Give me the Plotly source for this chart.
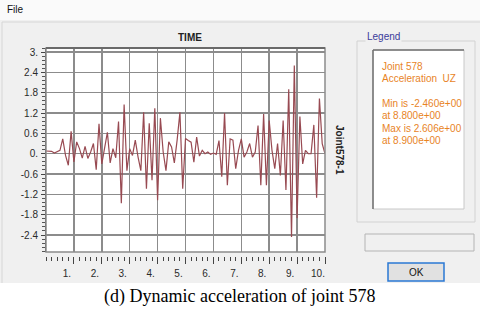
import plotly.graph_objects as go

# ---------------- data ----------------
time_step = 0.1
accel_uz = [
    0.08, 0.08, 0.07, 0.02, 0.05, 0.10, 0.44, -0.05, -0.34, 0.66,
    -0.24, 0.35, 0.15, -0.13, 0.22, -0.14, 0.05, 0.30, -0.47, 0.88,
    -0.30, 0.15, 0.63, -0.27, 0.15, -0.12, 0.95, -1.46, 1.45, -0.50,
    0.15, -0.05, 0.40, -0.10, -0.50, 1.22, -1.03, 0.90, -0.78, 1.34,
    -1.37, 1.05, 0.05, -0.50, 0.35, 0.20, -0.27, 0.40, 1.22, -1.03,
    0.45, 0.39, 0.34, -0.25, 0.49, -0.07, 0.10, 0.00, 0.05, -0.02,
    0.02, -0.02, 0.39, -0.68, 1.20, -0.93, 0.44, 0.40, -0.44, 0.10,
    0.44, -0.10, 0.05, 0.30, -0.10, 0.05, 0.83, -0.93, 1.17, -0.93,
    0.98, 0.10, -0.44, 0.30, -0.64, 0.98, -1.07, 1.90, -2.46, 2.606,
    -1.90, 1.10, -0.30, 0.10, 0.00, 0.00, 0.85, -1.30, 1.63, 0.30,
    0.00,
]
time = [round(i * time_step, 1) for i in range(len(accel_uz))]

y_tickvals = [3.0, 2.4, 1.8, 1.2, 0.6, 0.0, -0.6, -1.2, -1.8, -2.4]
y_ticktext = ["3.", "2.4", "1.8", "1.2", "0.6", "0.", "-0.6", "-1.2", "-1.8", "-2.4"]
x_tickvals = [1, 2, 3, 4, 5, 6, 7, 8, 9, 10]
x_ticktext = ["1.", "2.", "3.", "4.", "5.", "6.", "7.", "8.", "9.", "10."]

legend_lines = ["Joint 578", "Acceleration  UZ", "", "Min is -2.460e+00",
                "at 8.800e+00", "Max is 2.606e+00", "at 8.900e+00"]
plot_title = "TIME"
side_label = "Joint578-1"
caption = "(d) Dynamic acceleration of joint 578"

# ---------------- layout geometry ----------------
W, H = 480, 310
ML, MR, MT, MB = 46, 155, 48, 54
PW, PH = W - ML - MR, H - MT - MB
PLOT_BOTTOM = 252


def px(x):
    return (x - ML) / PW


def py(y):
    return (H - MB - y) / PH


ydom0 = py(PLOT_BOTTOM)

fig = go.Figure()
fig.add_trace(go.Scatter(x=time, y=accel_uz, mode="lines",
                         line=dict(color="#984a52", width=1.2),
                         hoverinfo="skip", showlegend=False))

axis_font = dict(family="Arial, Liberation Sans, sans-serif", size=10, color="#2a2a2a")

fig.update_layout(
    width=W, height=H,
    margin=dict(l=ML, r=MR, t=MT, b=MB, pad=0),
    paper_bgcolor="#f0f0f0",
    plot_bgcolor="#ffffff",
    showlegend=False,
    hovermode=False,
    xaxis=dict(
        range=[0, 10], anchor="free", position=0,
        tickmode="array", tickvals=x_tickvals, ticktext=x_ticktext,
        ticks="outside", ticklen=7, tickwidth=1, tickcolor="#444444",
        ticklabelshift=-7, ticklabelstandoff=1,
        tickfont=axis_font,
        minor=dict(dtick=0.2, tick0=0, ticklen=4, tickcolor="#444444", ticks="outside", showgrid=False),
        showgrid=True, gridcolor="#8c8c8c", gridwidth=1.5,
        showline=False, zeroline=False, fixedrange=True,
    ),
    yaxis=dict(
        range=[-2.90, 3.12], domain=[ydom0, 1],
        tickmode="array", tickvals=y_tickvals, ticktext=y_ticktext,
        ticks="outside", ticklen=4, tickwidth=1, tickcolor="#444444",
        tickfont=axis_font, ticklabelstandoff=1,
        minor=dict(dtick=0.12, tick0=0, ticklen=3, tickcolor="#555555", ticks="outside", showgrid=False),
        showgrid=True, gridcolor="#8c8c8c", gridwidth=1.5,
        showline=True, linecolor="#555555", linewidth=1,
        zeroline=False, fixedrange=True,
    ),
)

shapes = []
# top white band (menu)
shapes.append(dict(type="rect", xref="paper", yref="paper", x0=px(0), x1=px(480), y0=py(0), y1=py(20),
                   fillcolor="#fafafa", line=dict(width=0), layer="below"))
# panel border
shapes.append(dict(type="line", xref="paper", yref="paper", x0=px(2), x1=px(480), y0=py(22), y1=py(22),
                   line=dict(color="#d6d6d6", width=1)))
shapes.append(dict(type="line", xref="paper", yref="paper", x0=px(2), x1=px(2), y0=py(22), y1=py(283),
                   line=dict(color="#d6d6d6", width=1)))
# caption band
shapes.append(dict(type="rect", xref="paper", yref="paper", x0=px(0), x1=px(480), y0=py(283), y1=py(310),
                   fillcolor="#ffffff", line=dict(width=0), layer="below"))
# plot frame
shapes.append(dict(type="rect", xref="paper", yref="paper", x0=0, x1=1, y0=ydom0, y1=1,
                   line=dict(color="#8c8c8c", width=1.5)))
shapes.append(dict(type="line", xref="paper", yref="paper", x0=0, x1=1, y0=1, y1=1,
                   line=dict(color="#6a6a6a", width=2)))
# legend group box
shapes.append(dict(type="rect", xref="paper", yref="paper", x0=px(357), x1=px(475), y0=py(222), y1=py(41),
                   line=dict(color="#d2d2d2", width=1)))
# inner white legend box
shapes.append(dict(type="rect", xref="paper", yref="paper", x0=px(373), x1=px(464), y0=py(209), y1=py(50),
                   fillcolor="#ffffff", line=dict(color="#c8c8c8", width=1)))
shapes.append(dict(type="line", xref="paper", yref="paper", x0=px(373), x1=px(464), y0=py(50), y1=py(50),
                   line=dict(color="#707070", width=1.5)))
shapes.append(dict(type="line", xref="paper", yref="paper", x0=px(373), x1=px(373), y0=py(50), y1=py(209),
                   line=dict(color="#707070", width=1.5)))
# sunken status box
shapes.append(dict(type="rect", xref="paper", yref="paper", x0=px(365), x1=px(474), y0=py(251), y1=py(234),
                   fillcolor="#f0f0f0", line=dict(color="#b4b4b4", width=1)))
# OK button
shapes.append(dict(type="rect", xref="paper", yref="paper", x0=px(388), x1=px(444), y0=py(281), y1=py(263),
                   fillcolor="#e1e1e1", line=dict(color="#2a78d4", width=1.5)))
fig.update_layout(shapes=shapes)

ui_font = "Arial, Liberation Sans, sans-serif"
ann = []
ann.append(dict(text="File", x=px(5), y=py(9), xref="paper", yref="paper", xanchor="left", yanchor="middle",
                showarrow=False, font=dict(family=ui_font, size=10, color="#111111")))
ann.append(dict(text="<b>" + plot_title + "</b>", x=px(190), y=py(38), xref="paper", yref="paper",
                xanchor="center", yanchor="middle", showarrow=False,
                font=dict(family=ui_font, size=10, color="#222222")))
ann.append(dict(text="<b>" + side_label + "</b>", x=px(340), y=py(150), xref="paper", yref="paper",
                xanchor="center", yanchor="middle", textangle=90, showarrow=False,
                font=dict(family=ui_font, size=10, color="#222222")))
ann.append(dict(text="Legend", x=px(365), y=py(37), xref="paper", yref="paper", xanchor="left",
                yanchor="middle", showarrow=False, bgcolor="#f0f0f0",
                font=dict(family=ui_font, size=10, color="#3b3b9a")))
for i, line in enumerate(legend_lines):
    if not line:
        continue
    ann.append(dict(text=line, x=px(380), y=py(66 + 12.4 * i), xref="paper", yref="paper",
                    xanchor="left", yanchor="middle", showarrow=False,
                    font=dict(family=ui_font, size=10, color="#e8841f")))
ann.append(dict(text="OK", x=px(416), y=py(272), xref="paper", yref="paper", xanchor="center",
                yanchor="middle", showarrow=False, font=dict(family=ui_font, size=10, color="#111111")))
ann.append(dict(text=caption, x=px(239), y=py(296), xref="paper", yref="paper", xanchor="center",
                yanchor="middle", showarrow=False,
                font=dict(family="Liberation Serif, Times New Roman, serif", size=18, color="#000000")))
fig.update_layout(annotations=ann)

fig.write_html("out.html", config={"displayModeBar": False, "staticPlot": True},
               post_script="document.body.style.margin='0';document.body.style.overflow='hidden';")
